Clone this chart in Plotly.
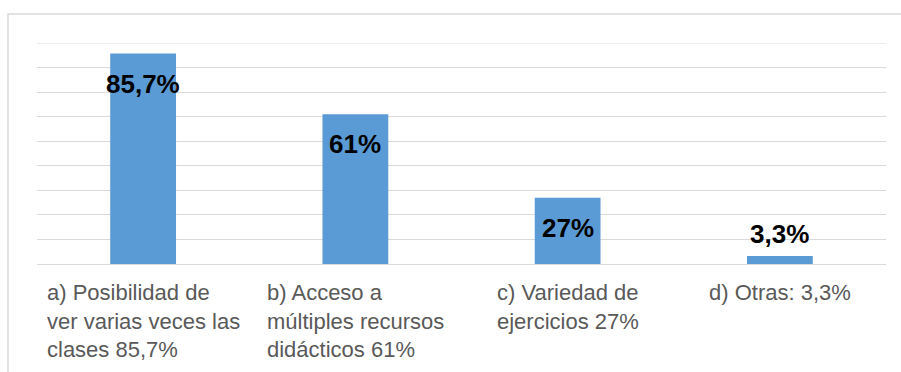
import plotly.graph_objects as go

# Survey results: perceived advantages
categories = ["a", "b", "c", "d"]
category_labels = [
    "a) Posibilidad de<br>ver varias veces las<br>clases 85,7%",
    "b) Acceso a<br>múltiples recursos<br>didácticos 61%",
    "c) Variedad de<br>ejercicios 27%",
    "d) Otras: 3,3%",
]
values = [85.7, 61, 27, 3.3]
value_labels = ["85,7%", "61%", "27%", "3,3%"]
y_max = 90

BAR_COLOR = "#5B9BD5"
GRID_COLOR = "#D9D9D9"
FONT = "Arial, 'Liberation Sans', sans-serif"

fig = go.Figure(
    go.Bar(
        x=categories,
        y=values,
        width=0.31,
        marker=dict(color=BAR_COLOR, line=dict(width=0)),
        hoverinfo="skip",
    )
)

annotations = []
# value labels: inside near the top of tall bars, above short ones
for cat, v, lab in zip(categories, values, value_labels):
    inside = v >= 10
    annotations.append(
        dict(
            x=cat, y=v, xref="x", yref="y",
            text=f"<b>{lab}</b>",
            showarrow=False,
            yanchor="middle",
            yshift=-30 if inside else 22,
            font=dict(family=FONT, size=26, color="#000000"),
        )
    )

# category labels: left-aligned blocks centred under each bar
for cat, lab in zip(categories, category_labels):
    annotations.append(
        dict(
            x=cat, y=0, xref="x", yref="paper",
            text=lab,
            showarrow=False,
            xanchor="center",
            yanchor="top",
            align="left",
            yshift=-14,
            font=dict(family=FONT, size=22, color="#595959"),
        )
    )

fig.update_layout(
    width=901,
    height=372,
    margin=dict(l=37, r=15, t=43, b=108),
    paper_bgcolor="white",
    plot_bgcolor="white",
    showlegend=False,
    bargap=0.69,
    annotations=annotations,
    shapes=[
        # chart frame, running off the right and bottom edges
        dict(
            type="rect", xref="paper", yref="paper",
            x0=-0.0342, x1=1.2, y0=-1.0, y1=1.131,
            line=dict(color=GRID_COLOR, width=1.5),
            fillcolor="rgba(0,0,0,0)",
            layer="below",
        ),
        # gridline at the top of the value range
        dict(
            type="line", xref="paper", yref="y",
            x0=0, x1=1, y0=y_max, y1=y_max,
            line=dict(color=GRID_COLOR, width=1),
            layer="below",
        ),
    ],
    xaxis=dict(
        showticklabels=False,
        showgrid=False,
        showline=False,
        zeroline=False,
        ticks="",
    ),
    yaxis=dict(
        range=[0, y_max],
        dtick=10,
        showticklabels=False,
        showgrid=True,
        gridcolor=GRID_COLOR,
        gridwidth=1,
        zeroline=True,
        zerolinecolor=GRID_COLOR,
        zerolinewidth=1,
        showline=False,
        ticks="",
    ),
)

fig.write_html("out.html")
